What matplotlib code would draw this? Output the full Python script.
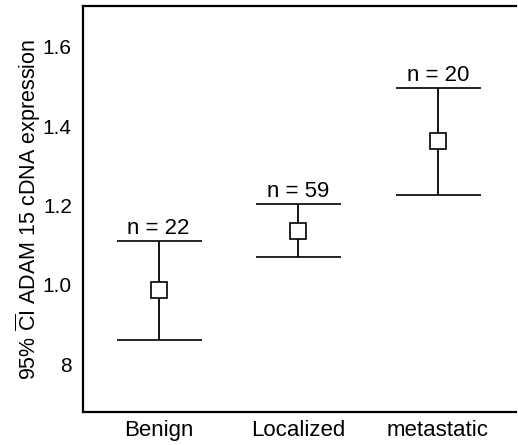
import matplotlib
matplotlib.use('Agg')
import matplotlib.pyplot as plt

plt.rcParams['font.family'] = ['Liberation Sans', 'DejaVu Sans']
plt.rcParams['mathtext.fontset'] = 'custom'
plt.rcParams['mathtext.rm'] = 'Liberation Sans'

groups = ['Benign', 'Localized', 'metastatic']
means = [0.987, 1.136, 1.363]
ci_low = [0.862, 1.071, 1.227]
ci_high = [1.110, 1.203, 1.497]
counts = [22, 59, 20]
yticks = [0.8, 1.0, 1.2, 1.4, 1.6]
ytick_labels = ['8', '1.0', '1.2', '1.4', '1.6']

fig = plt.figure(figsize=(5.18, 4.45), dpi=100)
ax = fig.add_axes([0.160, 0.074, 0.836, 0.9125])

xpos = list(range(1, len(groups) + 1))
lower_err = [m - lo for m, lo in zip(means, ci_low)]
upper_err = [hi - m for m, hi in zip(means, ci_high)]

ax.errorbar(xpos, means, yerr=[lower_err, upper_err], fmt='s', color='black',
            ecolor='black', elinewidth=1.3, capsize=30.6, capthick=1.6,
            markersize=11, markerfacecolor='white', markeredgecolor='black',
            markeredgewidth=1.2)

for x, hi, n in zip(xpos, ci_high, counts):
    ax.annotate('n = ' + str(n), xy=(x, hi), xytext=(0, 1.5), textcoords='offset points',
                ha='center', va='bottom', fontsize=16)

ax.set_xlim(0.458, 3.56)
ax.set_ylim(0.679, 1.703)
ax.set_xticks(xpos)
ax.set_xticklabels(groups, fontsize=16)
ax.set_yticks(yticks)
ax.set_yticklabels(ytick_labels, fontsize=15)
ax.tick_params(axis='both', length=0)
ax.tick_params(axis='y', pad=8)
ax.tick_params(axis='x', pad=6)
ax.set_ylabel(r'95% $\overline{\mathrm{C}}$I ADAM 15 cDNA expression', fontsize=15.5, labelpad=0)

for side in ['left', 'top', 'bottom']:
    ax.spines[side].set_linewidth(1.6)
ax.spines['right'].set_visible(False)

fig.savefig('out.png', dpi=100)
